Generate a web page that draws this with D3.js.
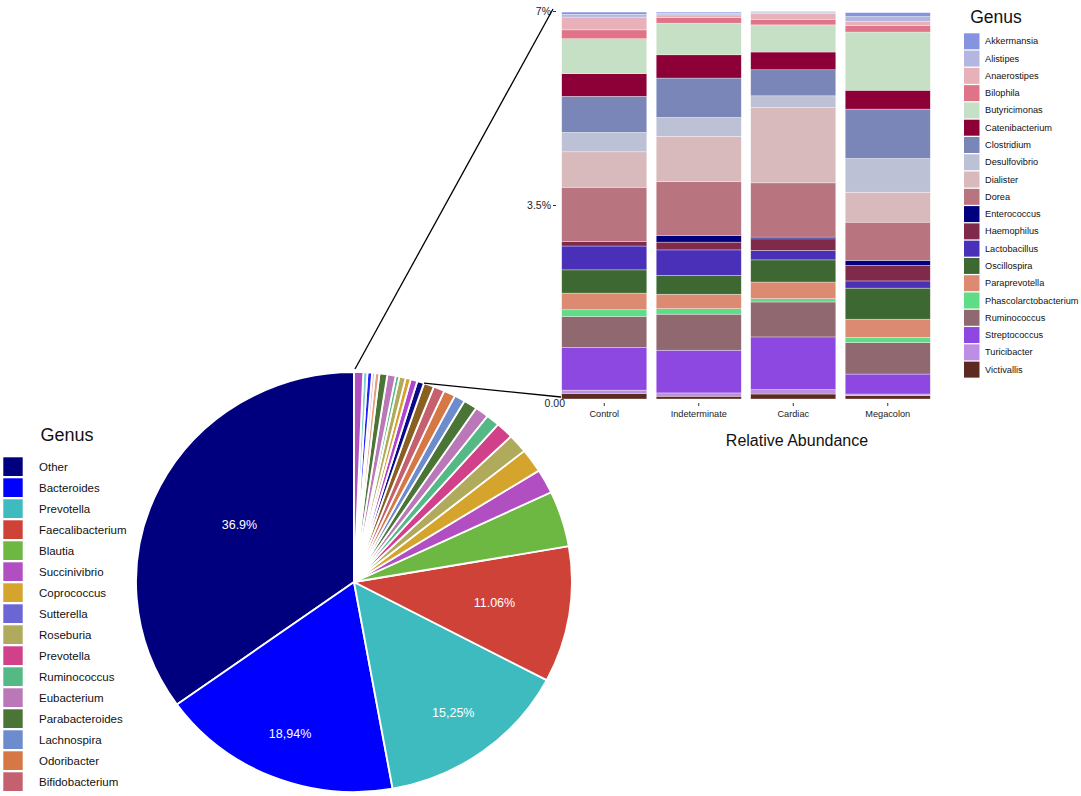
<!DOCTYPE html>
<html>
<head>
<meta charset="utf-8">
<script src="https://cdn.jsdelivr.net/npm/d3@7"></script>
<style>
  html, body { margin: 0; padding: 0; background: #ffffff; }
  svg { display: block; font-family: "Liberation Sans", Arial, sans-serif; }
</style>
</head>
<body>
<svg id="chart" width="1081" height="796"></svg>
<script>
// ---------------- DATA ----------------
// Pie: slices listed counter-clockwise from 12 o'clock (legend order first)
const pieGenus = [
  "Other", "Bacteroides", "Prevotella", "Faecalibacterium", "Blautia",
  "Succinivibrio", "Coprococcus", "Roseburia", "Prevotella ", "Ruminococcus",
  "Eubacterium", "Parabacteroides", "Lachnospira", "Odoribacter", "Bifidobacterium",
  "Minor 1", "Minor 2", "Minor 3", "Minor 4", "Minor 5", "Minor 6", "Minor 7",
  "Minor 8", "Minor 9", "Minor 10", "Minor 11", "Minor 12", "Minor 13"
];
const pieValues = [
  36.9, 18.94, 15.25, 11.06, 4.55,
  1.97, 1.94, 1.56, 1.38, 1.06,
  1.07, 1.07, 0.85, 0.91, 0.87,
  0.81, 0.54, 0.53, 0.40, 0.50, 0.29, 0.65,
  0.62, 0.34, 0.23, 0.36, 0.32, 0.72
];
const pieColors = [
  "#00007f", "#0000ff", "#3dbbbf", "#cf4238", "#6cb842",
  "#b14fc2", "#d4a42c", "#b0aa5c", "#d0418a", "#55b985",
  "#bb78b8", "#4b7437", "#6c8ccd", "#d67845", "#c5606f",
  "#8a6022", "#0a0a88", "#b046d0", "#d4a030", "#b0aa5c", "#55b985", "#bb78b8",
  "#4b7437", "#e0a080", "#e8b4b4", "#2020ff", "#80d0d0", "#b050c0"
];
const pieLabels = ["36.9%", "18,94%", "15,25%", "11.06%"];

const pieLegendGenus = [
  "Other", "Bacteroides", "Prevotella", "Faecalibacterium", "Blautia", "Succinivibrio",
  "Coprococcus", "Sutterella", "Roseburia", "Prevotella", "Ruminococcus", "Eubacterium",
  "Parabacteroides", "Lachnospira", "Odoribacter", "Bifidobacterium"
];
const pieLegendColors = [
  "#00007f", "#0000ff", "#3dbbbf", "#cf4238", "#6cb842", "#b14fc2",
  "#d4a42c", "#6b66d3", "#b0aa5c", "#d0418a", "#55b985", "#bb78b8",
  "#4b7437", "#6c8ccd", "#d67845", "#c5606f"
];

// Stacked bars
const barGroups = ["Control", "Indeterminate", "Cardiac", "Megacolon"];
const barGenus = [
  "Akkermansia", "Alistipes", "Anaerostipes", "Bilophila", "Butyricimonas",
  "Catenibacterium", "Clostridium", "Desulfovibrio", "Dialister", "Dorea",
  "Enterococcus", "Haemophilus", "Lactobacillus", "Oscillospira", "Paraprevotella",
  "Phascolarctobacterium", "Ruminococcus", "Streptococcus", "Turicibacter", "Victivallis"
];
const barColors = [
  "#8593e0", "#b3b7e0", "#e8b0b8", "#df7488", "#c6e0c6",
  "#8d0037", "#7a86b7", "#bcc1d5", "#d8babd", "#b87580",
  "#00007f", "#7f2a4a", "#4a30b8", "#3e6832", "#dc8a72",
  "#5fdc88", "#8f6870", "#8c48e0", "#bc8ee4", "#5b2a20"
];
const controlValues =       [0.04, 0.05, 0.23, 0.16, 0.63, 0.41, 0.65, 0.35, 0.64, 0.98, 0.00, 0.08, 0.43, 0.42, 0.30, 0.12, 0.56, 0.77, 0.06, 0.10];
const indeterminateValues = [0.02, 0.03, 0.05, 0.10, 0.57, 0.42, 0.71, 0.34, 0.82, 0.97, 0.12, 0.14, 0.46, 0.34, 0.26, 0.10, 0.65, 0.77, 0.06, 0.05];
const cardiacValues =       [0.01, 0.02, 0.11, 0.10, 0.49, 0.32, 0.47, 0.21, 1.36, 0.98, 0.03, 0.21, 0.17, 0.40, 0.30, 0.06, 0.63, 0.95, 0.08, 0.09];
const megacolonValues =     [0.07, 0.09, 0.07, 0.12, 1.05, 0.34, 0.89, 0.61, 0.54, 0.69, 0.09, 0.28, 0.13, 0.56, 0.33, 0.09, 0.57, 0.36, 0.03, 0.06];
const yTickValues = [0, 3.5, 7];
const yTickLabels = ["0.00", "3.5%", "7%"];
const xAxisTitle = "Relative Abundance";
const legendTitle = "Genus";

// ---------------- LAYOUT ----------------
const svg = d3.select("#chart");
const cx = 354, cy = 582, R = 210, sx = 218 / 210;
const labelRadius = [124, 164, 162, 137];
const zoomFirstIndex = 16; // first slice (ccw list) of the zoomed region

// ---- Pie ----
const pie = d3.pie().sort(null).value(d => d).startAngle(2 * Math.PI).endAngle(0);
const arcs = pie(pieValues);
const arc = d3.arc().innerRadius(0).outerRadius(R);

const pieG = svg.append("g").attr("transform", `translate(${cx},${cy}) scale(${sx},1)`);
pieG.selectAll("path")
  .data(arcs)
  .join("path")
  .attr("d", d => arc({ startAngle: Math.min(d.startAngle, d.endAngle), endAngle: Math.max(d.startAngle, d.endAngle) }))
  .attr("fill", (d, i) => pieColors[i])
  .attr("stroke", "#ffffff")
  .attr("stroke-width", 1.8)
  .attr("stroke-linejoin", "round");

// labels
pieLabels.forEach((t, i) => {
  const a = (arcs[i].startAngle + arcs[i].endAngle) / 2;
  const r = labelRadius[i];
  svg.append("text")
    .attr("x", cx + sx * r * Math.sin(a))
    .attr("y", cy - r * Math.cos(a))
    .attr("text-anchor", "middle")
    .attr("dominant-baseline", "central")
    .attr("fill", "#ffffff")
    .attr("font-size", 12.5)
    .text(t);
});

// ---- Stacked bars ----
const valueSets = [controlValues, indeterminateValues, cardiacValues, megacolonValues];
const table = barGroups.map((g, gi) => {
  const row = { group: g };
  barGenus.forEach((k, ki) => { row[k] = valueSets[gi][ki]; });
  return row;
});
const stackKeys = barGenus.slice().reverse(); // bottom = last alphabetical
const series = d3.stack().keys(stackKeys)(table);
const colorOf = d3.scaleOrdinal().domain(barGenus).range(barColors);

const x = d3.scaleBand().domain(barGroups).range([557, 935]).paddingInner(0.1).paddingOuter(0.05);
const y = d3.scaleLinear().domain([0, 7]).range([399, 11]);

const barG = svg.append("g");
barG.selectAll("g.layer")
  .data(series)
  .join("g")
  .attr("class", "layer")
  .attr("fill", d => colorOf(d.key))
  .selectAll("rect")
  .data(d => d)
  .join("rect")
  .attr("x", d => x(d.data.group))
  .attr("width", x.bandwidth())
  .attr("y", d => y(d[1]))
  .attr("height", d => Math.max(0, y(d[0]) - y(d[1])))
  .attr("stroke", "#ffffff")
  .attr("stroke-opacity", 0.55)
  .attr("stroke-width", 0.6);

// y axis
const yAxis = svg.append("g")
  .attr("transform", "translate(556,0)")
  .call(d3.axisLeft(y).tickValues(yTickValues).tickFormat((d, i) => yTickLabels[i]).tickSize(3).tickPadding(2));
yAxis.select(".domain").remove();
yAxis.selectAll("line").attr("stroke", "#333");
yAxis.selectAll("text").attr("font-size", 10.5).attr("fill", "#222").attr("font-family", "'Liberation Sans', Arial, sans-serif");
yAxis.selectAll(".tick").filter(d => d === 0).select("text").attr("dx", 14).attr("dy", "0.75em");
yAxis.selectAll(".tick").filter(d => d === 0).select("line").remove();

// x axis
const xAxis = svg.append("g")
  .attr("transform", "translate(0,403)")
  .call(d3.axisBottom(x).tickSize(3).tickPadding(4));
xAxis.select(".domain").remove();
xAxis.selectAll("line").attr("stroke", "#333");
xAxis.selectAll("text").attr("font-size", 9.2).attr("fill", "#222").attr("font-family", "'Liberation Sans', Arial, sans-serif");

svg.append("text")
  .attr("x", 797).attr("y", 446)
  .attr("text-anchor", "middle")
  .attr("font-size", 16)
  .attr("fill", "#111")
  .text(xAxisTitle);

// ---- Zoom lines ----
function piePoint(a) { return [cx + sx * R * Math.sin(a), cy - R * Math.cos(a)]; }
const p1 = piePoint(0);
const p2 = piePoint(arcs[zoomFirstIndex].startAngle);
svg.append("line")
  .attr("x1", p1[0] + 1).attr("y1", p1[1] - 3)
  .attr("x2", 553).attr("y2", y(7) - 2)
  .attr("stroke", "#000").attr("stroke-width", 1.3);
svg.append("line")
  .attr("x1", p2[0]).attr("y1", p2[1])
  .attr("x2", 561).attr("y2", y(0) - 2)
  .attr("stroke", "#000").attr("stroke-width", 1.3);

// ---- Right legend ----
svg.append("text")
  .attr("x", 996).attr("y", 17)
  .attr("text-anchor", "middle").attr("dominant-baseline", "central")
  .attr("font-size", 17.5).attr("fill", "#111")
  .text(legendTitle);
const rl = svg.append("g");
barGenus.forEach((k, i) => {
  const yy = 33.3 + i * 17.28;
  rl.append("rect").attr("x", 964).attr("y", yy).attr("width", 15.5).attr("height", 16)
    .attr("fill", barColors[i]);
  rl.append("text").attr("x", 985).attr("y", yy + 8)
    .attr("dominant-baseline", "central")
    .attr("font-size", 9.2).attr("fill", "#111")
    .text(k);
});

// ---- Left legend ----
svg.append("text")
  .attr("x", 67).attr("y", 435)
  .attr("text-anchor", "middle").attr("dominant-baseline", "central")
  .attr("font-size", 18).attr("fill", "#111")
  .text(legendTitle);
const ll = svg.append("g");
pieLegendGenus.forEach((k, i) => {
  const yy = 457.3 + i * 21;
  ll.append("rect").attr("x", 3.3).attr("y", yy).attr("width", 19.4).attr("height", 18.7)
    .attr("fill", pieLegendColors[i]);
  ll.append("text").attr("x", 39).attr("y", yy + 9.5)
    .attr("dominant-baseline", "central")
    .attr("font-size", 11.5).attr("fill", "#111")
    .text(k);
});
</script>
</body>
</html>
